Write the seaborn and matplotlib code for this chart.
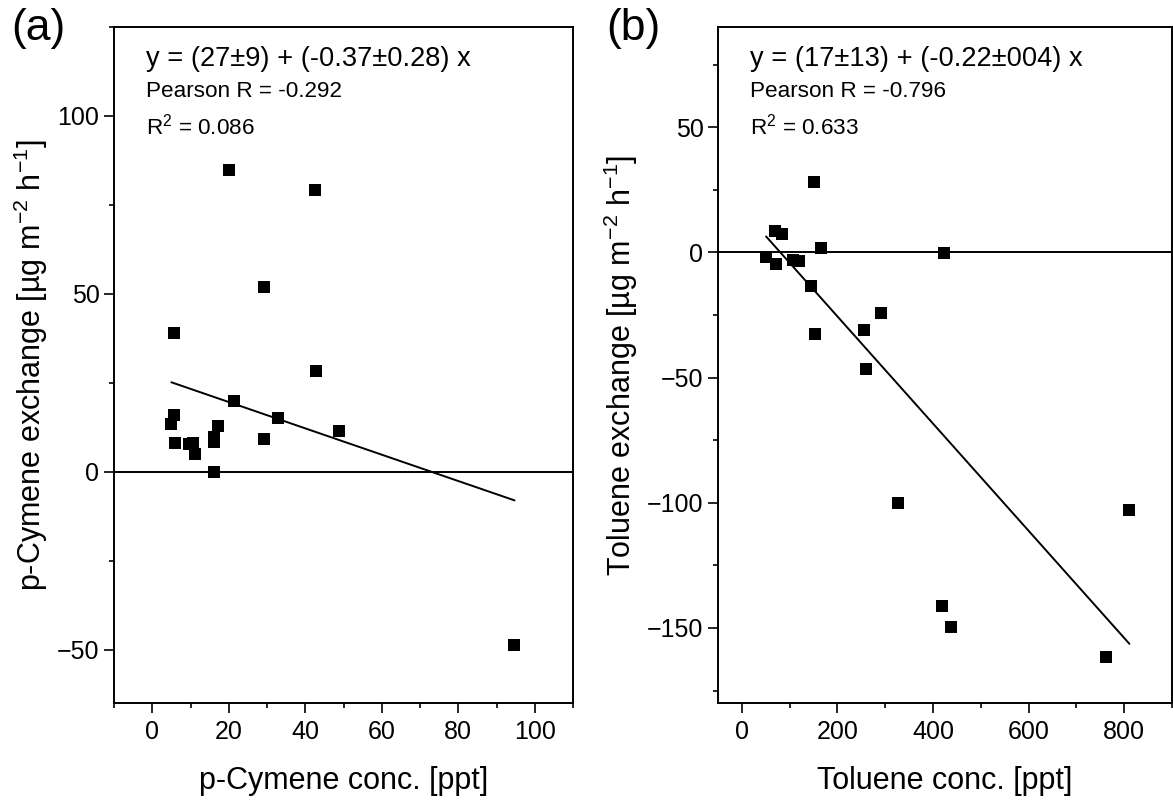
import matplotlib
matplotlib.use("Agg")
import matplotlib.pyplot as plt
import seaborn as sns
import numpy as np
from matplotlib.ticker import MultipleLocator

# panel (a): p-Cymene
cym_conc = [29.2, 20.1, 42.6, 5.8, 42.7, 21.4, 33.0, 5.6, 5.0, 17.1, 48.7, 16.1, 16.1,
            29.2, 6.0, 9.7, 10.6, 11.3, 16.1, 94.7]
cym_flux = [52.0, 84.8, 79.2, 39.1, 28.3, 20.0, 15.0, 16.0, 13.5, 12.9, 11.4, 9.7, 8.5,
            9.2, 8.0, 7.7, 8.0, 4.9, -0.1, -48.7]
cym_fit = (27.0, -0.37)

# panel (b): Toluene
tol_conc = [150.6, 70.2, 84.7, 164.6, 424, 50.7, 71.5, 108, 118.8, 143.8, 291.7, 255.6,
            152.8, 259, 327, 811, 418, 437.5, 762]
tol_flux = [28.3, 8.4, 7.4, 1.9, -0.3, -1.9, -4.8, -2.9, -3.4, -13.4, -24.3, -31.0,
            -32.8, -46.7, -100, -103, -141.4, -149.8, -161.8]
tol_fit = (17.2, -0.214)

panel_labels = ["(a)", "(b)"]
eq_texts = ["y = (27±9) + (-0.37±0.28) x", "y = (17±13) + (-0.22±004) x"]
pearson_texts = ["Pearson R = -0.292", "Pearson R = -0.796"]
r2_texts = ["R$^2$ = 0.086", "R$^2$ = 0.633"]
x_labels = ["p-Cymene conc. [ppt]", "Toluene conc. [ppt]"]
y_labels = ["p-Cymene exchange [µg m$^{-2}$ h$^{-1}$]", "Toluene exchange [µg m$^{-2}$ h$^{-1}$]"]

sns.set_style("ticks")
plt.rcParams["font.family"] = ["Liberation Sans", "DejaVu Sans"]
plt.rcParams["mathtext.default"] = "regular"
for key in ["text.color", "axes.labelcolor", "xtick.color", "ytick.color", "axes.edgecolor"]:
    plt.rcParams[key] = "black"

fig = plt.figure(figsize=(11.73, 8.02), dpi=100)
ax_a = fig.add_axes([0.0972, 0.1234, 0.3913, 0.8429])
ax_b = fig.add_axes([0.6121, 0.1234, 0.3870, 0.8429])

panels = [
    (ax_a, cym_conc, cym_flux, cym_fit, (-10, 110), (-65, 125), 20, 10, 50, 25),
    (ax_b, tol_conc, tol_flux, tol_fit, (-50, 900), (-180, 90), 200, 100, 50, 25),
]

for i, (ax, xs, ys, fit, xlim, ylim, xmaj, xmin, ymaj, ymin) in enumerate(panels):
    ax.axhline(0, color="black", lw=1.4, zorder=1)
    fx = np.array([min(xs), max(xs)])
    sns.lineplot(x=fx, y=fit[0] + fit[1] * fx, color="black", lw=1.4, ax=ax)
    sns.scatterplot(x=xs, y=ys, marker="s", s=70, color="black", linewidth=0, ax=ax, zorder=3)

    ax.set_xlim(xlim)
    ax.set_ylim(ylim)
    ax.xaxis.set_major_locator(MultipleLocator(xmaj))
    ax.xaxis.set_minor_locator(MultipleLocator(xmin))
    ax.yaxis.set_major_locator(MultipleLocator(ymaj))
    ax.yaxis.set_minor_locator(MultipleLocator(ymin))
    ax.tick_params(which="major", direction="out", length=7, width=1.2, labelsize=18, color="black")
    ax.tick_params(which="minor", direction="out", length=3.8, width=1.2, color="black")
    ax.tick_params(axis="x", which="major", pad=5)
    ax.tick_params(top=False, right=False)
    for sp in ax.spines.values():
        sp.set_linewidth(1.4)
        sp.set_color("black")
        sp.set_visible(True)

    ax.set_xlabel(x_labels[i], fontsize=22, labelpad=16)
    ax.set_ylabel(y_labels[i], fontsize=22, labelpad=5)

    ax.text(0.07, 0.953, eq_texts[i], transform=ax.transAxes, fontsize=19.6, va="center")
    ax.text(0.07, 0.905, pearson_texts[i], transform=ax.transAxes, fontsize=16.2, va="center")
    ax.text(0.07, 0.853, r2_texts[i], transform=ax.transAxes, fontsize=16.2, va="center")

fig.text(0.010, 0.99, panel_labels[0], fontsize=32, va="top")
fig.text(0.517, 0.99, panel_labels[1], fontsize=32, va="top")

fig.savefig("out.png", dpi=100)
